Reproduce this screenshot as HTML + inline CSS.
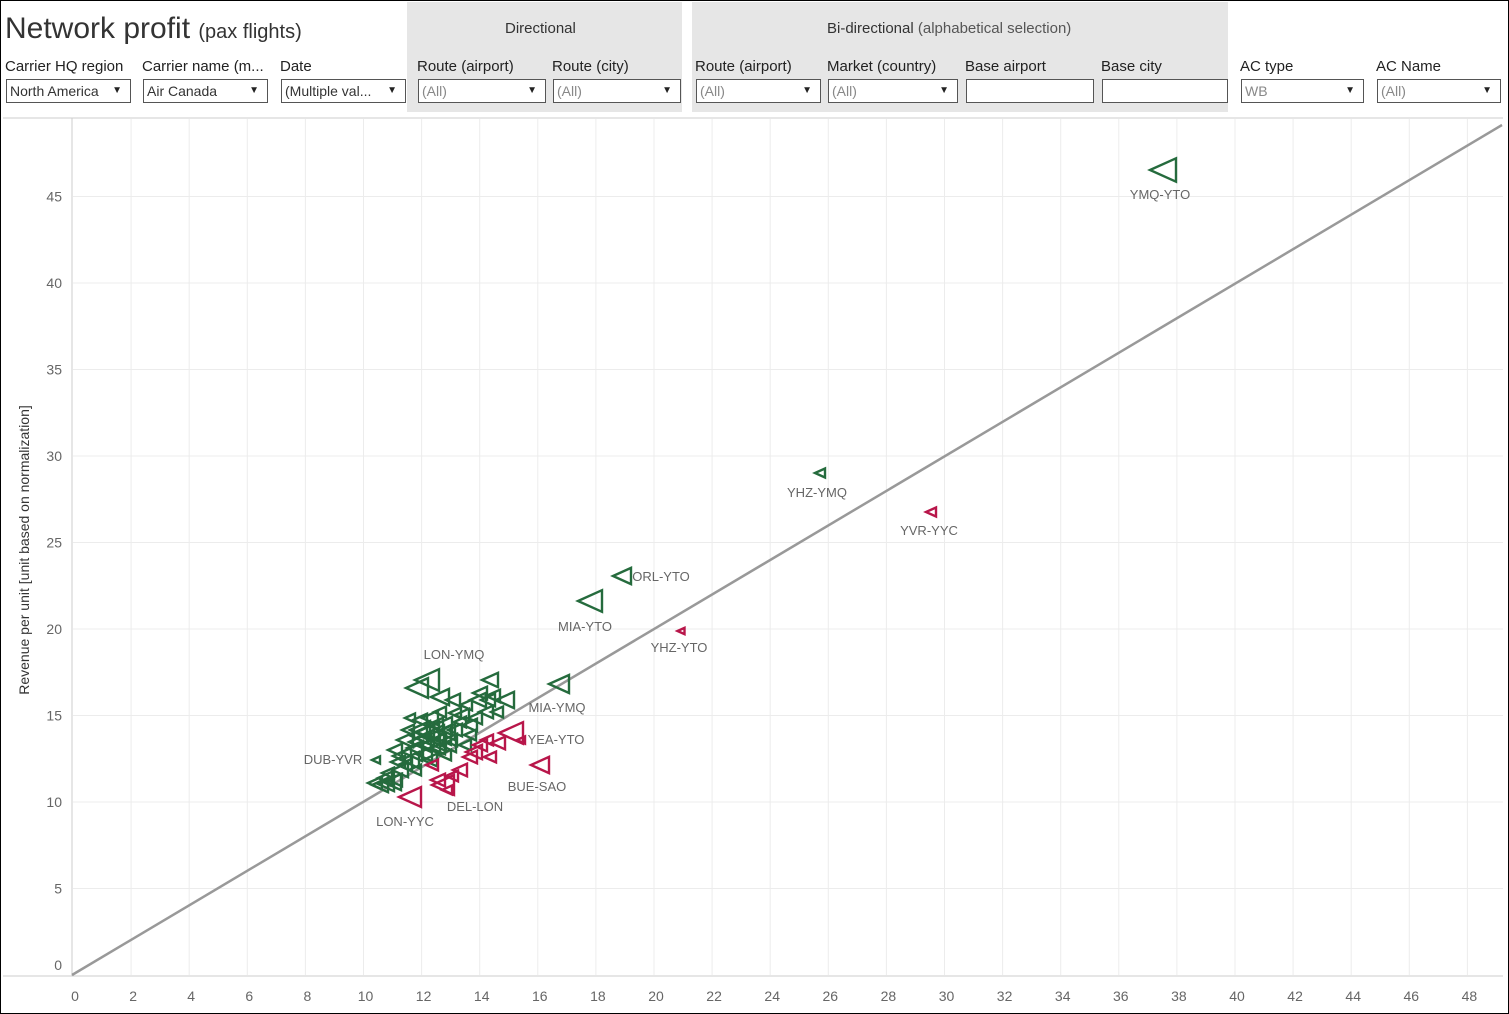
<!DOCTYPE html>
<html><head><meta charset="utf-8"><style>
body{margin:0;width:1509px;height:1014px;overflow:hidden;background:#fff;font-family:"Liberation Sans",sans-serif;position:relative}
.frame{position:absolute;left:0;top:0;width:1507px;height:1012px;border:1px solid #000}
.t{position:absolute;white-space:nowrap}
.lab{position:absolute;top:58px;font-size:15px;color:#222}
.dd{position:absolute;top:79px;border:1px solid #555;background:#fff;font-size:14px;color:#333;line-height:22px;padding-left:3px;box-sizing:border-box;height:24px}
.dd.g{color:#888}
.dd i{position:absolute;right:8px;top:0;font-style:normal;font-size:10px;color:#222}
.box{position:absolute;background:#e6e6e6}
</style></head><body>
<div class="frame"></div>
<div class="box" style="left:407px;top:2px;width:275px;height:110px"></div>
<div class="box" style="left:692px;top:2px;width:536px;height:110px"></div>
<div class="t" style="left:5px;top:12px;font-size:30px;color:#333">Network profit <span style="font-size:20px">(pax flights)</span></div>
<div class="t" style="left:505px;top:20px;font-size:15px;color:#333">Directional</div>
<div class="t" style="left:827px;top:20px;font-size:15px;color:#333">Bi-directional <span style="color:#555">(alphabetical selection)</span></div>
<div class="lab" style="left:5px">Carrier HQ region</div>
<div class="lab" style="left:142px">Carrier name (m...</div>
<div class="lab" style="left:280px">Date</div>
<div class="lab" style="left:417px">Route (airport)</div>
<div class="lab" style="left:552px">Route (city)</div>
<div class="lab" style="left:695px">Route (airport)</div>
<div class="lab" style="left:827px">Market (country)</div>
<div class="lab" style="left:965px">Base airport</div>
<div class="lab" style="left:1101px">Base city</div>
<div class="lab" style="left:1240px">AC type</div>
<div class="lab" style="left:1376px">AC Name</div>
<div class="dd" style="left:6px;width:125px">North America<i>▼</i></div>
<div class="dd" style="left:143px;width:125px">Air Canada<i>▼</i></div>
<div class="dd" style="left:281px;width:125px">(Multiple val...<i>▼</i></div>
<div class="dd g" style="left:418px;width:128px">(All)<i>▼</i></div>
<div class="dd g" style="left:553px;width:128px">(All)<i>▼</i></div>
<div class="dd g" style="left:696px;width:125px">(All)<i>▼</i></div>
<div class="dd g" style="left:828px;width:130px">(All)<i>▼</i></div>
<div class="dd" style="left:966px;width:128px"></div>
<div class="dd" style="left:1102px;width:126px"></div>
<div class="dd g" style="left:1241px;width:123px">WB<i>▼</i></div>
<div class="dd g" style="left:1377px;width:124px">(All)<i>▼</i></div>
<svg id="s" width="1509" height="1014" style="position:absolute;left:0;top:0" font-family="Liberation Sans, sans-serif">
<line x1="3" y1="118" x2="1503" y2="118" stroke="#ccc"/>
<g id="grid" stroke="#ececec" stroke-width="1"></g>
<line x1="72" y1="118" x2="72" y2="976" stroke="#ccc"/>
<line x1="3" y1="976" x2="1503" y2="976" stroke="#ccc"/>
<g id="tk" font-size="14" fill="#666"></g>
<text transform="translate(29,550) rotate(-90)" text-anchor="middle" font-size="14" fill="#333">Revenue per unit [unit based on normalization]</text>
<line x1="72" y1="975" x2="1502" y2="125" stroke="#999" stroke-width="2.5"/>
<g id="m" fill="none" stroke-width="2.4"></g>
<g font-size="13" fill="#666" text-anchor="middle">
<text x="1160" y="199">YMQ-YTO</text><text x="817" y="497">YHZ-YMQ</text><text x="929" y="535">YVR-YYC</text>
<text x="661" y="581">ORL-YTO</text><text x="585" y="631">MIA-YTO</text><text x="679" y="652">YHZ-YTO</text>
<text x="557" y="712">MIA-YMQ</text><text x="454" y="659">LON-YMQ</text><text x="556" y="744">YEA-YTO</text>
<text x="537" y="791">BUE-SAO</text><text x="333" y="764">DUB-YVR</text><text x="475" y="811">DEL-LON</text>
<text x="405" y="826">LON-YYC</text></g>
</svg>
<script>
var ns="http://www.w3.org/2000/svg",g=document.getElementById('grid'),tk=document.getElementById('tk');
function X(v){return 73+29.05*v}function Y(v){return 975-17.3*v}
function el(p,t,a,txt){var e=document.createElementNS(ns,t);for(var k in a)e.setAttribute(k,a[k]);if(txt!=null)e.textContent=txt;p.appendChild(e);}
for(var v=2;v<=48;v+=2){el(g,'line',{x1:X(v),x2:X(v),y1:119,y2:975});}
for(var v=0;v<=48;v+=2){el(tk,'text',{x:X(v)+2,y:1001,'text-anchor':'middle'},v);}
for(var v=5;v<=45;v+=5){el(g,'line',{x1:73,x2:1503,y1:Y(v),y2:Y(v)});el(tk,'text',{x:62,y:Y(v)+5,'text-anchor':'end'},v);}
el(tk,'text',{x:62,y:970,'text-anchor':'end'},0);
var G=[[1163,170,26],[820,473,10],[622,576,18],[590,601,24],[559,684,20],
[427,680,24],[417,688,22],[440,697,18],[453,700,14],[490,680,16],[480,693,14],[478,700,16],[493,696,14],[505,700,18],[462,715,14],[486,712,14],[460,722,12],[440,712,12],[410,718,10],[420,730,20],[440,735,22],[430,745,20],[405,740,16],[395,750,14],[410,760,18],[400,770,16],[385,778,14],[380,785,16],[395,780,14],[450,740,14],[465,745,12],[455,730,14],[470,725,14],[430,760,14],[415,770,12],[376,760,8],[445,755,12],[420,720,14],[435,725,16],[425,738,18],[415,748,16],[438,748,14],[408,730,12],[398,762,14],[388,773,12],
[428,732,22],[436,742,20],[420,742,22],[446,732,18],[412,752,20],[402,756,18],[392,782,18],[386,784,16],[375,783,14],[430,718,16],[455,713,12],[475,718,14],[497,712,12],[470,735,12],[448,745,16],[424,754,16],[442,726,20],[432,736,24],[418,735,18],[405,765,14],[466,705,12],[488,700,14]];
var R=[[931,512,10],[681,631,7],[410,797,22],[443,785,22],[447,790,10],[460,770,14],[470,757,14],[480,745,14],[487,740,12],[511,733,24],[521,740,8],[540,765,18],[432,765,12],[490,757,12],[474,752,16],[452,776,12],[498,743,14],[438,780,14]];
var m=document.getElementById('m');
function tri(a,c){var x=a[0],y=a[1],w=a[2],h=w*0.9;el(m,'polygon',{points:(x-w/2)+','+y+' '+(x+w/2)+','+(y-h/2)+' '+(x+w/2)+','+(y+h/2),stroke:c});}
G.forEach(function(a){tri(a,'#256b3d')});R.forEach(function(a){tri(a,'#b8164a')});
</script>
</body></html>
